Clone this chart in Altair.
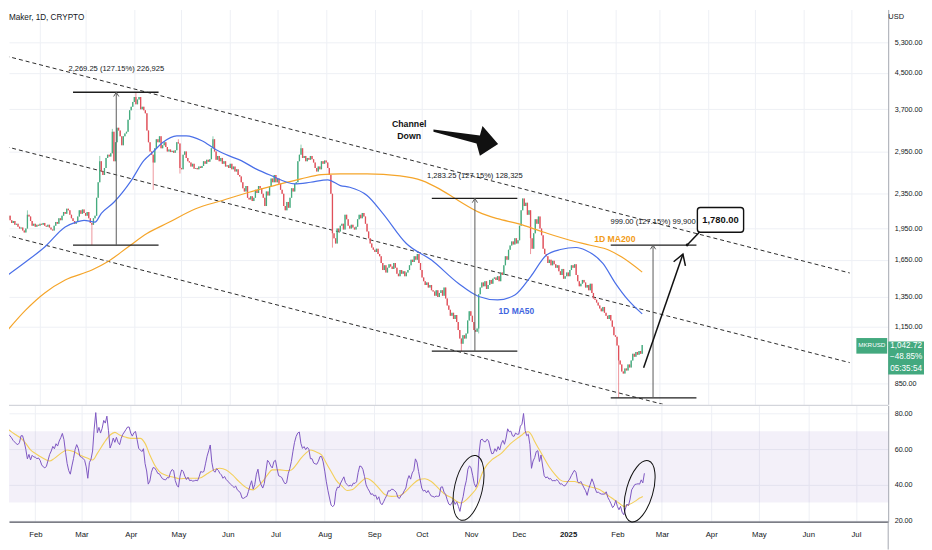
import altair as alt
import pandas as pd

START = pd.Timestamp("2024-01-10")

def ts(day):
    return (START + pd.Timedelta(days=float(day))).strftime("%Y-%m-%dT%H:%M:%SZ")

def ms(day):
    return int((START + pd.Timedelta(days=float(day))).timestamp() * 1000)

# ---------------- daily closes (MKRUSD, 1D) ----------------
first_open = 2080.0
close_2024_01 = [2100, 2060, 2090, 2040, 2010, 2030, 1990, 2000, 1970, 1950, 1960, 1930, 1910, 1950, 2100, 2080, 2030, 1980, 2000, 1970, 1990, 1980]
close_2024_02 = [2000, 1990, 2010, 1980, 1970, 1990, 1960, 1940, 1930, 1980, 2020, 2000, 2060, 2040, 2090, 2130, 2110, 2170, 2150, 2100, 2060, 2030, 2000, 2020, 2080, 2150, 2110, 2160, 2120]
close_2024_03 = [2090, 2130, 2060, 2010, 1990, 2060, 2090, 2300, 2500, 2800, 2650, 2600, 2700, 2850, 2900, 2870, 2920, 3280, 2800, 3100, 3350, 3300, 3200, 3050, 3200, 3250, 3280, 3500, 3680, 3750, 3850]
close_2024_04 = [3950, 3800, 3900, 3950, 3700, 3750, 3680, 3620, 3300, 3100, 2950, 2900, 2780, 3000, 3150, 3100, 3200, 3000, 3050, 3100, 3020, 2950, 2980, 2940, 2960, 2930, 2970, 3100, 3080, 2700]
close_2024_05 = [2680, 2900, 2950, 2850, 2800, 2780, 2720, 2760, 2690, 2700, 2680, 2720, 2700, 2730, 2800, 2760, 2820, 2790, 2830, 3000, 3150, 2950, 2820, 2880, 2800, 2850, 2760, 2800, 2720, 2740, 2700]
close_2024_06 = [2760, 2680, 2720, 2650, 2680, 2600, 2580, 2500, 2420, 2380, 2450, 2300, 2280, 2320, 2260, 2300, 2400, 2360, 2450, 2420, 2350, 2300, 2200, 2380, 2330, 2450, 2550, 2500, 2600, 2500]
close_2024_07 = [2550, 2480, 2400, 2350, 2200, 2150, 2250, 2180, 2300, 2420, 2380, 2480, 2500, 2800, 2900, 3000, 2850, 2880, 2800, 2850, 2820, 2880, 2830, 2780, 2700, 2650, 2720, 2680, 2800, 2760, 2810]
close_2024_08 = [2780, 2700, 2600, 2350, 1900, 1850, 1800, 1950, 1920, 1980, 2000, 1940, 2100, 2050, 1980, 1950, 1990, 1960, 1940, 1970, 2050, 2100, 2060, 2120, 2080, 2000, 1920, 1850, 1800, 1760, 1740]
close_2024_09 = [1720, 1750, 1700, 1680, 1620, 1560, 1600, 1540, 1580, 1610, 1590, 1570, 1620, 1580, 1530, 1510, 1560, 1530, 1550, 1510, 1540, 1560, 1600, 1650, 1630, 1680, 1650, 1700, 1620, 1560]
close_2024_10 = [1500, 1470, 1440, 1460, 1420, 1440, 1400, 1390, 1360, 1400, 1350, 1380, 1400, 1360, 1420, 1340, 1290, 1260, 1220, 1240, 1200, 1225, 1180, 1130, 1080, 1050, 1100, 1080, 1110, 1190, 1250]
close_2024_11 = [1220, 1180, 1130, 1120, 1140, 1370, 1420, 1460, 1430, 1470, 1410, 1440, 1480, 1450, 1490, 1500, 1480, 1510, 1470, 1540, 1520, 1600, 1680, 1650, 1740, 1780, 1820, 1790, 1850, 1800]
close_2024_12 = [1830, 1980, 2150, 2290, 2200, 2240, 2100, 2150, 1850, 1750, 1900, 2050, 2000, 2080, 1950, 1880, 1750, 1700, 1680, 1620, 1650, 1600, 1640, 1610, 1580, 1600, 1550, 1520, 1570, 1490, 1510]
close_2025_01 = [1540, 1510, 1560, 1600, 1580, 1610, 1520, 1470, 1430, 1450, 1480, 1460, 1420, 1440, 1400, 1450, 1380, 1340, 1330, 1310, 1290, 1270, 1250, 1280, 1240, 1220, 1200, 1225, 1190, 1150, 1100]
close_2025_02 = [1090, 1040, 960, 940, 905, 895, 920, 910, 940, 925, 960, 995, 980, 1005, 990, 1010, 995, 1042.72]

# notable wicks: day index -> price
wick_high = {14: 2150, 60: 2880, 68: 3330, 83: 4053.95, 110: 3150, 132: 3200, 188: 3060, 329: 2292.45}
wick_low = {55: 1784.7, 94: 2400, 111: 2620, 208: 1760, 290: 1009.2, 301: 1110, 334: 1700, 390: 785.7}

# ---------------- moving averages (day index, value) ----------------
ma50_day = [0, 13, 25, 38, 45, 50, 57, 61, 69, 80, 88, 94, 100, 109, 115, 125, 134, 142, 150, 159, 169, 184, 194, 205, 213, 219, 230, 240, 255, 271, 288, 301, 313, 324, 334, 344, 353, 363, 369, 380, 388, 396, 405]
ma50_val = [1505, 1631, 1766, 1966, 2019, 2038, 2019, 2116, 2246, 2523, 2808, 2946, 3096, 3209, 3209, 3125, 2978, 2884, 2808, 2690, 2592, 2479, 2500, 2533, 2456, 2434, 2329, 2116, 1799, 1646, 1453, 1354, 1329, 1365, 1505, 1690, 1742, 1761, 1736, 1617, 1453, 1329, 1233]
ma200_day = [0, 13, 25, 38, 55, 65, 78, 90, 104, 121, 138, 155, 171, 188, 201, 213, 230, 251, 265, 276, 288, 301, 313, 326, 342, 359, 372, 384, 392, 405]
ma200_val = [1114, 1260, 1380, 1479, 1560, 1631, 1766, 1898, 2016, 2168, 2267, 2370, 2456, 2546, 2605, 2615, 2615, 2587, 2523, 2413, 2267, 2130, 2056, 2002, 1914, 1831, 1783, 1736, 1673, 1543]

# ---------------- RSI (daily) and its MA ----------------
rsi = [80.9, 77.8, 72.2, 71, 69.9, 68.4, 67.5, 66.4, 64.9, 64,
       63, 62.5, 63.6, 67.5, 67.5, 64.2, 59.9, 54.5, 57, 53.9,
       56.5, 55.6, 55.4, 54.6, 55, 53.7, 51.1, 50, 49.4, 50.4,
       53.7, 57, 58.9, 61.5, 60.2, 63, 61.7, 64.5, 66.4, 68.8,
       65.3, 58.2, 51.9, 47.9, 45.9, 50.5, 54.6, 59.7, 62.5, 60.4,
       56, 55.4, 54.8, 53.7, 50, 43.6, 52.4, 54.3, 58.9, 71.2,
       80.5, 69.2, 72.2, 69, 71.6, 76.1, 74.6, 78.5, 70.3, 60.6,
       62.9, 66.2, 63.8, 66.6, 63.8, 62.5, 66, 68.3, 69.6, 71,
       72.4, 72.4, 69, 67.3, 69.2, 69.9, 65.3, 60.4, 59.5, 58.6,
       60.2, 51.9, 47.7, 40.3, 42, 47, 49.6, 49.4, 48.1, 46.3,
       46.1, 44.6, 43.3, 42.9, 42.7, 44, 43.8, 47, 48.5, 47.9,
       42.3, 39.7, 38.6, 44.8, 48.3, 47.4, 44.8, 42.9, 44.2, 42.3,
       42.5, 42, 42.2, 42.5, 42.2, 44.4, 47.4, 47, 47.4, 51.7,
       56, 59, 62.3, 52.5, 47.9, 47, 49, 48.1, 46.4, 45.5,
       43.6, 44.6, 42.9, 42, 41, 40.1, 39.2, 38.4, 39.2, 37.1,
       36.4, 35.3, 32.5, 32.3, 33, 33.4, 36.2, 39.5, 42.2, 37.5,
       40.1, 45.9, 48.7, 42.7, 39.9, 38.1, 40.7, 47.6, 53.7, 52.6,
       50.5, 49.4, 53, 53.7, 49, 45, 44.6, 44, 42, 40.5,
       41, 46.1, 49, 53, 58.8, 63.8, 67.1, 69, 69.6, 63.2,
       60.4, 61.4, 59.7, 61, 59.9, 54.6, 54.6, 52.2, 51.7, 51.5,
       53.2, 55.8, 55.8, 52.8, 47.6, 41.6, 36.7, 32.5, 28.5, 27.6,
       28.7, 36.2, 38.6, 38.4, 40.9, 42.7, 44.4, 41.2, 40.1, 39.2,
       39.7, 39.2, 40.9, 40.7, 41.6, 46.8, 50.5, 50.2, 48.5, 44.6,
       39.9, 37.9, 36.4, 34.5, 34.9, 33.6, 34.1, 31.7, 33.2, 29.7,
       28.7, 30.4, 32.3, 34, 36.6, 36.4, 37.5, 37.3, 36.6, 35.6,
       32.8, 32.3, 34, 34.7, 36.6, 38.1, 42.7, 45.1, 43.1, 46.6,
       48.1, 54.5, 52.6, 47.4, 42.7, 38.1, 36.4, 36.9, 35.4, 36.7,
       35, 33.6, 33.4, 33, 33.6, 33.4, 33.6, 38.6, 38.8, 35.8,
       34.5, 31.5, 29.1, 28.5, 30, 31.2, 28.9, 30.4, 27.8, 25,
       29.7, 33.2, 38.6, 42.2, 48.7, 50.6, 49.4, 45.3, 40.7, 38.6,
       40.9, 57.6, 65.1, 65.6, 64.3, 64, 65.5, 64.7, 60.6, 57.4,
       57.6, 60.2, 58.7, 61.4, 59.5, 63, 64.9, 62.7, 66.2, 71.4,
       69.7, 70.1, 67.5, 67.1, 69, 68.3, 68.4, 72.9, 74, 80,
       70.5, 67.5, 68.3, 62.5, 49.2, 53.3, 55.2, 58.6, 59.1, 53,
       56.7, 50.5, 45, 43.8, 44.4, 43.1, 43.5, 42.2, 42.3, 42.2,
       42.9, 41.8, 40.3, 40.5, 39.5, 39.3, 40.5, 42, 43.1, 45,
       46.6, 48.1, 46.8, 41.8, 40.9, 41.8, 40.1, 38.2, 36.6, 34,
       37.7, 40.3, 43.3, 41, 37.9, 35.6, 35.8, 35.1, 34.7, 34.7,
       34.7, 36, 32.8, 31.2, 29.3, 27.1, 28.2, 31.2, 27.8, 25.9,
       27.8, 24.5, 23.1, 26.3, 29.1, 28.2, 31.9, 37.1, 38.6, 40.1,
       40.3, 40.5, 40.3, 42.7, 41, 46.4]
rsi_ma_day = [0, 4, 7, 10, 13, 16, 19, 22, 25, 29, 31, 34, 38, 42, 46, 50, 55, 58, 61, 65, 69, 72, 75, 79, 82, 85, 88, 91, 94, 97, 100, 105, 109, 113, 117, 121, 125, 130, 134, 138, 142, 146, 150, 155, 159, 162, 165, 168, 171, 176, 180, 183, 186, 189, 192, 195, 198, 202, 205, 208, 211, 215, 218, 221, 226, 230, 234, 238, 242, 246, 251, 255, 259, 263, 267, 271, 276, 280, 284, 287, 290, 293, 296, 300, 303, 306, 309, 312, 315, 318, 321, 325, 328, 330, 332, 334, 336, 339, 342, 345, 349, 352, 355, 358, 361, 364, 367, 370, 374, 377, 380, 383, 386, 389, 392, 395, 399, 402, 404]
rsi_ma_val = [72.9, 71.6, 69.7, 67.9, 66, 63.2, 59.5, 57.6, 55.8, 53.9, 53.3, 54.8, 57.6, 59.5, 58.6, 56.7, 54.8, 53.9, 57.6, 63.2, 67.9, 69.4, 67.9, 66.6, 66, 66, 66, 63.2, 56.7, 51.1, 47.4, 45, 44.2, 43.3, 43.6, 43.6, 43.6, 46.1, 48.3, 49.2, 48.3, 45.5, 41.8, 38.1, 37.1, 39, 41.8, 45.5, 48.3, 48.3, 47.9, 48.3, 51.1, 54.8, 57.6, 59.5, 58.6, 56.7, 52, 47.4, 42.7, 39, 36.7, 37.1, 40.9, 43.6, 41.8, 38.1, 34.3, 33.4, 33.8, 36.2, 39.9, 42.7, 43.3, 41.8, 37.5, 34.3, 32.5, 30.6, 29.7, 31.5, 34.3, 39, 46.4, 51.1, 53.9, 55.8, 57.6, 60.4, 63.2, 66, 67.9, 69.4, 69.7, 67.9, 64.2, 59.5, 54.8, 50.2, 45.5, 42.7, 41.8, 41.8, 41.8, 40.9, 39.9, 39, 38.1, 37.1, 35.3, 33.4, 31.5, 29.7, 27.8, 28.7, 30.6, 32.5, 33.4]

# ---------------- axis ticks ----------------
price_ticks = [850, 1150, 1350, 1650, 1950, 2350, 2950, 3700, 4500, 5300]
rsi_ticks = [20, 40, 60, 80]
month_ticks = [(2024, m) for m in range(2, 13)] + [(2025, m) for m in range(1, 8)]

# ---------------- drawings (day index, price) ----------------
channel_name = ["top", "top", "mid", "mid", "bot", "bot"]
channel_day = [0, 537, 0, 537, 0, 418.2]
channel_price = [4930, 1536, 3030, 949, 1884, 758.6]

meas_start = [43.0, 271.2, 385.0]
meas_end = [97.4, 325.6, 439.5]
meas_mid = [70.5, 298.6, 411.9]
meas_low = [1784.7, 1009.2, 785.7]
meas_high = [4053.95, 2292.45, 1784.7]
meas_text = ["2,269.25 (127.15%) 226,925", "1,283.25 (127.15%) 128,325", "999.00 (127.15%) 99,900"]

last_price = 1042.72
UP, DOWN = "#45ab7e", "#e0505a"
BLUE, ORANGE = "#4a6fe8", "#f5a52a"
TXT, GRID, AXC = "#131722", "#eef0f5", "#a3a6af"
BOXG = "#43a97f"

W, HP, HR = 884, 397, 117

# ---------------- tables ----------------
closes = (close_2024_01 + close_2024_02 + close_2024_03 + close_2024_04 + close_2024_05 + close_2024_06 +
          close_2024_07 + close_2024_08 + close_2024_09 + close_2024_10 + close_2024_11 + close_2024_12 +
          close_2025_01 + close_2025_02)
n = len(closes)
opens = [first_open] + closes[:-1]
highs = [max(o, c) for o, c in zip(opens, closes)]
lows = [min(o, c) for o, c in zip(opens, closes)]
for d, v in wick_high.items():
    highs[d] = max(highs[d], v)
for d, v in wick_low.items():
    lows[d] = min(lows[d], v)
candles = pd.DataFrame({
    "date": [ts(i) for i in range(n)], "open": opens, "close": closes, "high": highs, "low": lows,
    "dir": ["up" if c >= o else "down" for o, c in zip(opens, closes)],
})
ma50_df = pd.DataFrame({"date": [ts(d) for d in ma50_day], "v": ma50_val})
ma200_df = pd.DataFrame({"date": [ts(d) for d in ma200_day], "v": ma200_val})
channels = pd.DataFrame({"line": channel_name, "date": [ts(d) for d in channel_day], "p": channel_price})
meas = pd.DataFrame({"s": [ts(d) for d in meas_start], "e": [ts(d) for d in meas_end], "m": [ts(d) for d in meas_mid],
                     "lo": meas_low, "hi": meas_high, "t": meas_text})
meas_h = pd.concat([meas[["s", "e"]].assign(p=meas["lo"]), meas[["s", "e"]].assign(p=meas["hi"])])
rsi_df = pd.DataFrame({"date": [ts(i) for i in range(len(rsi))], "r": rsi})
rsi_ma_df = pd.DataFrame({"date": [ts(d) for d in rsi_ma_day], "r": rsi_ma_val})

# ---------------- scales / axes ----------------
xscale = alt.Scale(type="utc", domain=[ms(5.44), ms(558.3)], nice=False)
month_vals = [alt.DateTime(year=y, month=m, date=1, utc=True) for y, m in month_ticks]
px_axis = alt.Axis(values=month_vals, labels=False, ticks=False, domain=False, grid=True, gridColor=GRID, title=None)
rx_axis = alt.Axis(values=month_vals, title=None, ticks=False, grid=True, gridColor=GRID,
                   labelExpr="utcFormat(datum.value, '%m') == '01' ? utcFormat(datum.value, '%Y') : utcFormat(datum.value, '%b')",
                   labelFontWeight={"condition": {"test": "utcFormat(datum.value, '%m') == '01'", "value": "bold"}, "value": "normal"},
                   labelFontSize=7.8, labelColor=TXT, labelPadding=9, domainColor="#50535e", domainWidth=1.3)
pscale = alt.Scale(type="log", domain=[758.6, 6324], nice=False)
py_axis = alt.Axis(orient="right", values=price_ticks, format=",.2f", title=None, labelFontSize=7.2, labelColor=TXT,
                   labelPadding=6, ticks=False, domainColor=AXC, grid=True, gridColor=GRID)
rscale = alt.Scale(domain=[19.2, 84.6], nice=False, zero=False)
ry_axis = alt.Axis(orient="right", values=rsi_ticks, format=".2f", title=None, labelFontSize=7.2, labelColor=TXT,
                   labelPadding=6, ticks=False, domainColor=AXC, grid=True, gridColor=GRID)

def PX(f):
    return alt.X(f, type="temporal", scale=xscale, axis=px_axis)

def PY(f):
    return alt.Y(f, type="quantitative", scale=pscale, axis=py_axis)

def RX(f):
    return alt.X(f, type="temporal", scale=xscale, axis=rx_axis)

def RY(f):
    return alt.Y(f, type="quantitative", scale=rscale, axis=ry_axis)

cdir = alt.Color("dir:N", scale=alt.Scale(domain=["up", "down"], range=[UP, DOWN]), legend=None)

CHEVRON = "M -0.55,0.9 L 0,0 L 0.55,0.9"
ELLIPSE = "M 0,-1 A 0.42,1 0 1,1 0,1 A 0.42,1 0 1,1 0,-1 Z"
BIGARROW = "M -1,-0.348 L 0.437,-0.163 L 0.517,-0.452 L 1,0.102 L 0.437,0.462 L 0.332,0.083 L -1,-0.277 Z"

def one(**kw):
    return pd.DataFrame({k: [v] for k, v in kw.items()})

layers = []
layers.append(alt.Chart(channels).mark_line(color="#2b2b2b", strokeWidth=1, strokeDash=[4, 3], clip=True)
              .encode(x=PX("date"), y=PY("p"), detail="line:N"))
layers.append(alt.Chart(candles).mark_rule(strokeWidth=0.8, opacity=0.75, clip=True)
              .encode(x=PX("date"), y=PY("low"), y2="high", color=cdir))
layers.append(alt.Chart(candles).mark_bar(size=1.3, clip=True)
              .encode(x=PX("date"), y=PY("open"), y2="close", color=cdir))
layers.append(alt.Chart(ma200_df).mark_line(color=ORANGE, strokeWidth=1.2, clip=True, interpolate="monotone")
              .encode(x=PX("date"), y=PY("v")))
layers.append(alt.Chart(ma50_df).mark_line(color=BLUE, strokeWidth=1.2, clip=True, interpolate="monotone")
              .encode(x=PX("date"), y=PY("v")))
# measurement tools
layers.append(alt.Chart(meas_h).mark_rule(color="#1e1e1e", strokeWidth=1.3)
              .encode(x=PX("s"), x2="e", y=PY("p")))
layers.append(alt.Chart(meas).mark_rule(color="#5a5a5a", strokeWidth=1)
              .encode(x=PX("m"), y=PY("lo"), y2="hi"))
layers.append(alt.Chart(meas).mark_point(shape=CHEVRON, size=90, filled=False, color="#5a5a5a", strokeWidth=1, opacity=1)
              .encode(x=PX("m"), y=PY("hi")))
layers.append(alt.Chart(meas).mark_text(dy=-23, fontSize=7.6, color=TXT)
              .encode(x=PX("m"), y=PY("hi"), text="t:N"))
# MA labels
layers.append(alt.Chart(one(d=ts(387.6), p=1848, t="1D MA200")).mark_text(fontSize=8.7, fontWeight="bold", color="#f29b16")
              .encode(x=PX("d"), y=PY("p"), text="t:N"))
layers.append(alt.Chart(one(d=ts(325.0), p=1253, t="1D MA50")).mark_text(fontSize=8.5, fontWeight="bold", color="#3f66e0")
              .encode(x=PX("d"), y=PY("p"), text="t:N"))
# Channel Down
layers.append(alt.Chart(pd.DataFrame({"d": [ts(256.8)] * 2, "p": [3422, 3209], "t": ["Channel", "Down"]}))
              .mark_text(fontSize=8.8, fontWeight="bold", color="#111")
              .encode(x=PX("d"), y=PY("p"), text="t:N"))
layers.append(alt.Chart(one(d=ts(292.8), p=3125)).mark_point(shape=BIGARROW, size=4225, filled=True, color="#111", opacity=1, strokeWidth=0)
              .encode(x=PX("d"), y=PY("p")))
# target arrow
layers.append(alt.Chart(one(d1=ts(405.9), p1=923, d2=ts(430.9), p2=1699)).mark_rule(color="#111", strokeWidth=1.5)
              .encode(x=PX("d1"), y=PY("p1"), x2="d2", y2="p2"))
layers.append(alt.Chart(one(d=ts(430.9), p=1699)).mark_point(shape=CHEVRON, size=520, angle=19.3, filled=False, color="#111", strokeWidth=1.5, opacity=1)
              .encode(x=PX("d"), y=PY("p")))
# callout 1,780.00
layers.append(alt.Chart(one(d1=ts(433.6), p1=1784.7, d2=ts(441.5), p2=1915)).mark_rule(color="#111", strokeWidth=1.5)
              .encode(x=PX("d1"), y=PY("p1"), x2="d2", y2="p2"))
layers.append(alt.Chart(one(d=ts(433.6), p=1784.7)).mark_point(filled=True, size=8, color="#111", opacity=1)
              .encode(x=PX("d"), y=PY("p")))
layers.append(alt.Chart(one(d1=ts(440.1), d2=ts(469.5), p1=1911, p2=2184)).mark_rect(fill="white", stroke="#111", strokeWidth=1.4, cornerRadius=3)
              .encode(x=PX("d1"), x2="d2", y=PY("p1"), y2="p2"))
layers.append(alt.Chart(one(d=ts(454.8), p=2043, t="1,780.00")).mark_text(fontSize=9.4, fontWeight="bold", color="#111")
              .encode(x=PX("d"), y=PY("p"), text="t:N"))
# last price labels
layers.append(alt.Chart(one(p1=995.9, p2=1083)).mark_rect(color=BOXG)
              .encode(x=alt.value(852), x2=alt.value(883), y=PY("p1"), y2="p2"))
layers.append(alt.Chart(one(p=last_price, t="MKRUSD")).mark_text(fontSize=6.3, color="white")
              .encode(x=alt.value(867.5), y=PY("p"), text="t:N"))
layers.append(alt.Chart(one(p1=890.3, p2=1063.6)).mark_rect(color=BOXG)
              .encode(x=alt.value(884), x2=alt.value(920), y=PY("p1"), y2="p2"))
for txt, off in [("1,042.72", 1.3), ("\u221248.85%", 12.3), ("05:35:54", 23.9)]:
    layers.append(alt.Chart(one(p=last_price, t=txt)).mark_text(fontSize=8.2, color="white", dy=off)
                  .encode(x=alt.value(902), y=PY("p"), text="t:N"))
# header texts
layers.append(alt.Chart(one(t="Maker, 1D, CRYPTO")).mark_text(align="left", baseline="middle", fontSize=8.2, color=TXT)
              .encode(x=alt.value(0), y=alt.value(9), text="t:N"))
layers.append(alt.Chart(one(t="USD")).mark_text(align="center", baseline="middle", fontSize=7.5, color=TXT)
              .encode(x=alt.value(892), y=alt.value(8), text="t:N"))

price = alt.layer(*layers).properties(width=W, height=HP)

# ---------------- RSI pane ----------------
rl = []
rl.append(alt.Chart(one(lo=30, hi=70)).mark_rect(color="#7e57c2", opacity=0.09)
          .encode(x=alt.value(0), x2=alt.value(W), y=RY("lo"), y2="hi"))
rl.append(alt.Chart(rsi_ma_df).mark_line(color="#f3cf5a", strokeWidth=1.1, clip=True, interpolate="monotone")
          .encode(x=RX("date"), y=RY("r")))
rl.append(alt.Chart(rsi_df).mark_line(color="#7e57c2", strokeWidth=1, clip=True)
          .encode(x=RX("date"), y=RY("r")))
for d, r, sz, ang in [(294.4, 38.2, 4449, 13), (402.0, 36.3, 4045, 16)]:
    rl.append(alt.Chart(one(d=ts(d), r=r)).mark_point(shape=ELLIPSE, size=sz, angle=ang, filled=False, color="#111", strokeWidth=1, opacity=1)
              .encode(x=RX("d"), y=RY("r")))
rl.append(alt.Chart(one(a=0)).mark_rule(color="#c9ccd3", strokeWidth=1)
          .encode(x=alt.value(0), x2=alt.value(W), y=alt.value(0)))
rl.append(alt.Chart(one(a=0)).mark_rule(color=AXC, strokeWidth=1)
          .encode(x=alt.value(W), y=alt.value(HR), y2=alt.value(HR + 28)))
rsi_pane = alt.layer(*rl).properties(width=W, height=HR)

chart = (alt.vconcat(price, rsi_pane, spacing=0)
         .resolve_scale(x="independent", y="independent")
         .properties(padding=0, background="white")
         .configure(font="Liberation Sans")
         .configure_view(stroke=None))

chart.save("out.html", embed_options={"renderer": "svg", "actions": False})
